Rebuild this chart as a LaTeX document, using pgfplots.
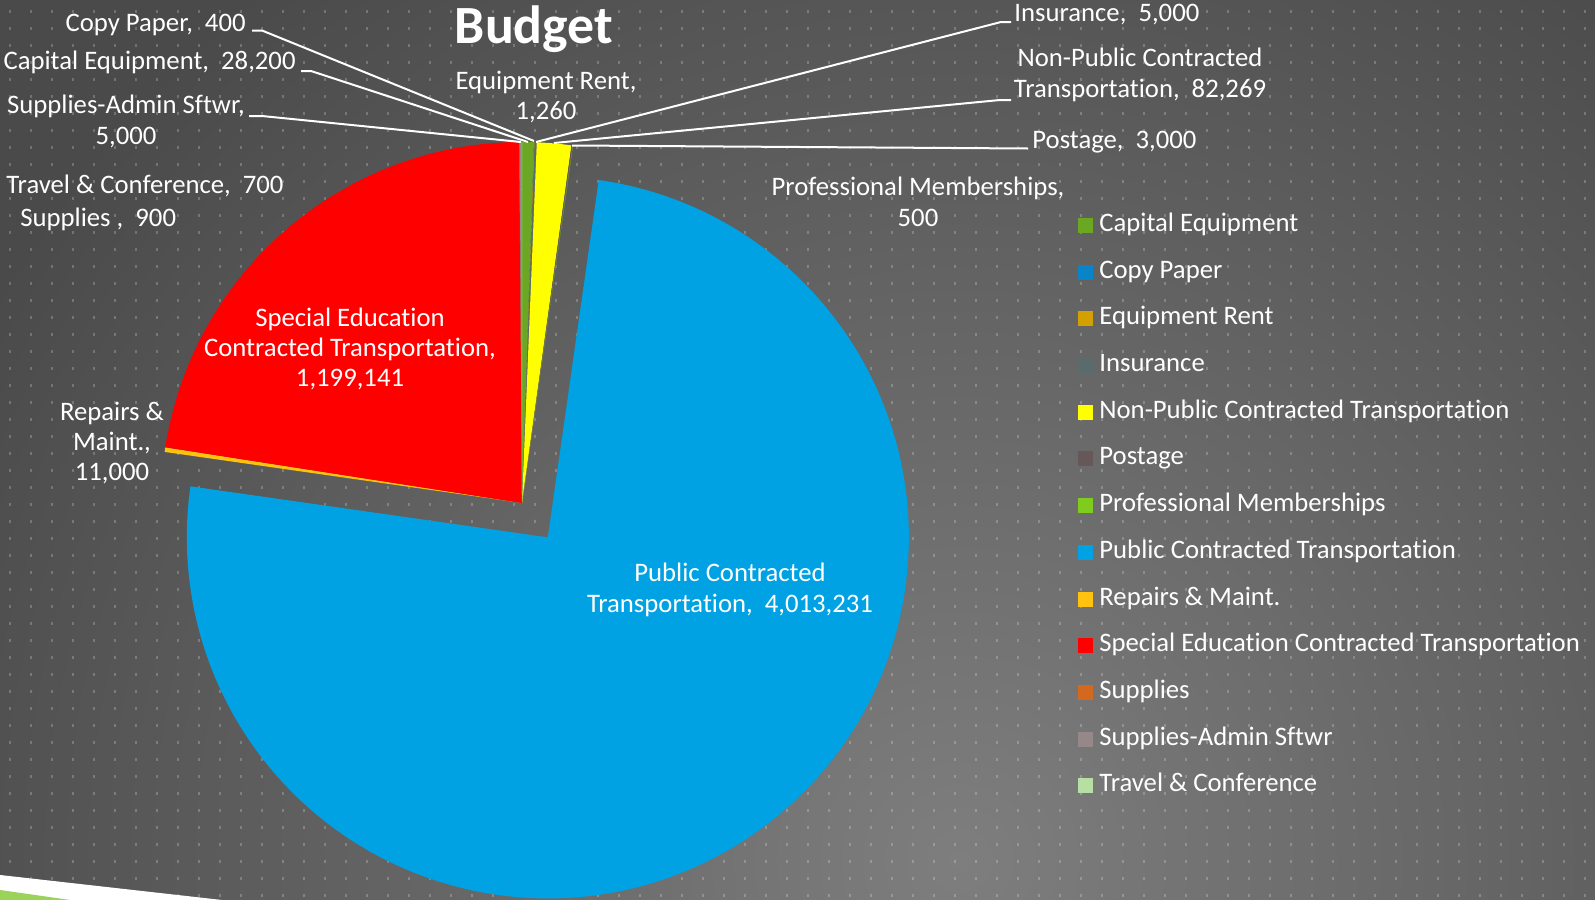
\documentclass[border=0pt]{standalone}
\usepackage{fontspec}
\setmainfont{Carlito}[Ligatures=NoCommon]
\usepackage{xfp}
\usepackage{pgfplots}
\pgfplotsset{compat=1.18}

\definecolor{bgIn}{HTML}{7E7E7E}
\definecolor{bgOut}{HTML}{4A4A4A}
\definecolor{cCap}{HTML}{6BA723}
\definecolor{cCopy}{HTML}{0A84C8}
\definecolor{cRent}{HTML}{D4A000}
\definecolor{cIns}{HTML}{5B6B6B}
\definecolor{cNonPub}{HTML}{FFFF00}
\definecolor{cPost}{HTML}{665858}
\definecolor{cProf}{HTML}{7FCC1F}
\definecolor{cPub}{HTML}{00A2E3}
\definecolor{cRep}{HTML}{FFC20E}
\definecolor{cSped}{HTML}{FF0000}
\definecolor{cSup}{HTML}{D2691E}
\definecolor{cAdm}{HTML}{948888}
\definecolor{cTrav}{HTML}{B7DFA4}
\definecolor{swoosh}{HTML}{9BD35A}

% value / colour / explosion (px), clockwise from 12 o'clock
\def\slicedata{28200/cCap/0, 400/cCopy/0, 1260/cRent/0, 5000/cIns/0,
  82269/cNonPub/0, 3000/cPost/0, 500/cProf/0, 4013231/cPub/43,
  11000/cRep/0, 1199141/cSped/0, 900/cSup/0, 5000/cAdm/0, 700/cTrav/0}
\def\pieR{361}
\def\pieCX{522}
\def\pieCY{503}

\gdef\cum{0}
\foreach \val/\col/\ex in \slicedata {\xdef\cum{\fpeval{\cum+\val}}}
\xdef\total{\cum}
\gdef\cum{0}
\foreach \val/\col/\ex [count=\i] in \slicedata {%
  \xdef\pieA{\fpeval{\cum*360/\total}}%
  \xdef\cum{\fpeval{\cum+\val}}%
  \xdef\pieB{\fpeval{\cum*360/\total}}%
  \xdef\pieM{\fpeval{(\pieA+\pieB)/2}}%
  \expandafter\xdef\csname cx\i\endcsname{\fpeval{\pieCX+\ex*sind(\pieM)}}%
  \expandafter\xdef\csname cy\i\endcsname{\fpeval{\pieCY-\ex*cosd(\pieM)}}%
  \expandafter\xdef\csname px\i\endcsname{\fpeval{\csname cx\i\endcsname+\pieR*sind(\pieA)}}%
  \expandafter\xdef\csname py\i\endcsname{\fpeval{\csname cy\i\endcsname-\pieR*cosd(\pieA)}}%
  \expandafter\xdef\csname ta\i\endcsname{\fpeval{90-\pieA}}%
  \expandafter\xdef\csname tb\i\endcsname{\fpeval{90-\pieB}}%
  \expandafter\xdef\csname sc\i\endcsname{\col}%
}

\begin{document}
\begin{tikzpicture}[
  lab/.style={text=white, font=\fontsize{13.4}{15.25}\selectfont, align=center, inner sep=0pt},
  lead/.style={white, line width=1bp},
]
\begin{axis}[
  scale only axis,
  width=797.5bp, height=450bp,
  xmin=0, xmax=1595, ymin=0, ymax=900,
  y dir=reverse,
  hide axis,
  clip=false,
  legend cell align=left,
  legend image code/.code={\fill[#1] (0bp,-3.75bp) rectangle (7.5bp,3.75bp);},
  legend style={at={(axis cs:1078,213)}, anchor=north west, draw=none, fill=none,
    inner sep=0pt, row sep=11.35bp,
    font=\fontsize{13.4}{15.25}\selectfont,
    nodes={text=white, inner sep=0pt, text height=9bp, text depth=3bp},
    /tikz/every odd column/.append style={column sep=3bp}},
]
% background
\fill[bgOut] (axis cs:0,0) rectangle (axis cs:1595,900);
\begin{scope}
  \clip (axis cs:0,0) rectangle (axis cs:1595,900);
  \shade[inner color=bgIn, outer color=bgOut] (axis cs:960,860) circle[radius=560bp];
\end{scope}
\pgfplotsinvokeforeach{10,31,...,1594}{
  \draw[white, opacity=0.22, line width=1bp, dash pattern=on 1.5bp off 7bp, dash phase=3.75bp]
    (axis cs:#1,0) -- (axis cs:#1,900);
}
\fill[white] (axis cs:0,875) -- (axis cs:222,900) -- (axis cs:0,900) -- cycle;
\fill[swoosh] (axis cs:0,890) -- (axis cs:70,900) -- (axis cs:0,900) -- cycle;

% slices
\pgfplotsinvokeforeach{1,...,13}{
  \fill[fill=\csname sc#1\endcsname]
    (axis cs:\csname cx#1\endcsname,\csname cy#1\endcsname)
    -- (axis cs:\csname px#1\endcsname,\csname py#1\endcsname)
    arc[start angle=\csname ta#1\endcsname, end angle=\csname tb#1\endcsname, radius=180.5bp]
    -- cycle;
}

% title
\node[text=white, font=\fontsize{27}{31}\selectfont\bfseries, anchor=base, inner sep=0pt]
  at (axis cs:534,43.5) {Budget};

% leader lines
\draw[lead] (axis cs:252,30.5) -- (axis cs:262,30.5) -- (axis cs:534,141);
\draw[lead] (axis cs:301,71) -- (axis cs:311,71) -- (axis cs:528,142);
\draw[lead] (axis cs:249,116) -- (axis cs:262,116) -- (axis cs:521,142);
\draw[lead] (axis cs:1011,22) -- (axis cs:1001,22) -- (axis cs:536,142);
\draw[lead] (axis cs:1011,100) -- (axis cs:1000,100) -- (axis cs:554,143);
\draw[lead] (axis cs:1028,148.5) -- (axis cs:572,145.5);

% data labels
\node[lab, anchor=base east] at (axis cs:246,31) {Copy Paper,~ 400};
\node[lab, anchor=base east] at (axis cs:296,69.7) {Capital Equipment,~ 28,200};
\node[lab] at (axis cs:126,121.5) {Supplies-Admin Sftwr,\\5,000};
\node[lab, anchor=base west] at (axis cs:6,193.7) {Travel \& Conference,~ 700};
\node[lab, anchor=base west] at (axis cs:20,226.7) {Supplies ,~ 900};
\node[lab] at (axis cs:546,97) {Equipment Rent,\\1,260};
\node[lab, anchor=base west] at (axis cs:1014,21.2) {Insurance,~ 5,000};
\node[lab] at (axis cs:1140,75) {Non-Public Contracted\\Transportation,~ 82,269};
\node[lab, anchor=base west] at (axis cs:1032,148.7) {Postage,~ 3,000};
\node[lab] at (axis cs:918,202) {Professional Memberships,\\500};
\node[lab] at (axis cs:350,349) {Special Education\\Contracted Transportation,\\1,199,141};
\node[lab] at (axis cs:112,443) {Repairs \&\\Maint.,\\11,000};
\node[lab] at (axis cs:730,590) {Public Contracted\\Transportation,~ 4,013,231};

% legend
\addlegendimage{fill=cCap, draw=none}\addlegendentry{Capital Equipment}
\addlegendimage{fill=cCopy, draw=none}\addlegendentry{Copy Paper}
\addlegendimage{fill=cRent, draw=none}\addlegendentry{Equipment Rent}
\addlegendimage{fill=cIns, draw=none}\addlegendentry{Insurance}
\addlegendimage{fill=cNonPub, draw=none}\addlegendentry{Non-Public Contracted Transportation}
\addlegendimage{fill=cPost, draw=none}\addlegendentry{Postage}
\addlegendimage{fill=cProf, draw=none}\addlegendentry{Professional Memberships}
\addlegendimage{fill=cPub, draw=none}\addlegendentry{Public Contracted Transportation}
\addlegendimage{fill=cRep, draw=none}\addlegendentry{Repairs \& Maint.}
\addlegendimage{fill=cSped, draw=none}\addlegendentry{Special Education Contracted Transportation}
\addlegendimage{fill=cSup, draw=none}\addlegendentry{Supplies}
\addlegendimage{fill=cAdm, draw=none}\addlegendentry{Supplies-Admin Sftwr}
\addlegendimage{fill=cTrav, draw=none}\addlegendentry{Travel \& Conference}
\end{axis}
\pgfresetboundingbox
\path (current axis.south west) rectangle (current axis.north east);
\end{tikzpicture}
\end{document}
